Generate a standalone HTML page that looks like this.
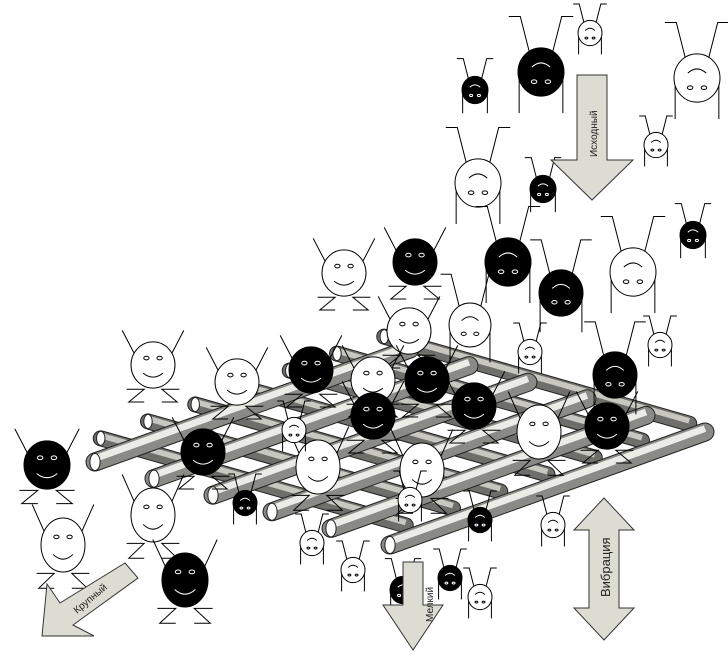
<!DOCTYPE html>
<html><head><meta charset="utf-8"><style>
html,body{margin:0;padding:0;background:#fff;width:728px;height:656px;overflow:hidden}
svg{display:block}
text{font-family:"Liberation Sans",sans-serif}
</style></head><body>
<svg id="s" width="728" height="656" viewBox="0 0 728 656" xmlns="http://www.w3.org/2000/svg">
<g id="under"></g>
<g id="grid"></g>
<g id="over"></g>
<g fill="#dcdcd2" stroke="#333" stroke-width="1">
  <polygon points="577,75 607,75 607,160 633,160 592,200 551,160 577,160"/>
  <polygon points="403,562 423,562 423,605 443,605 413,650 383,605 403,605"/>
  <polygon points="604,498 634,530 619,530 619,608 634,608 604,640 574,608 589,608 589,530 574,530"/>
  <polygon points="125,563 138,578 73,625 94,636 42,636 47,584 60,603"/>
</g>
<text x="0" y="0" font-size="10" transform="translate(597,157) rotate(-90)" fill="#222">Исходный</text>
<text x="0" y="0" font-size="10" transform="translate(433,622) rotate(-90)" fill="#222">Мелкий</text>
<text x="0" y="0" font-size="13" transform="translate(610,597) rotate(-90)" fill="#222">Вибрация</text>
<text x="0" y="0" font-size="10" transform="translate(77,614) rotate(-40)" fill="#222">Крупный</text>
</svg>
<script>
var NS="http://www.w3.org/2000/svg";
function el(p,t,a){var e=document.createElementNS(NS,t);for(var k in a)e.setAttribute(k,a[k]);p.appendChild(e);return e;}
var grid=document.getElementById('grid');
var L=[95,462],u=[295,83],v=[315,-113];
function rod(x1,y1,x2,y2,w,dark){
 el(grid,'line',{x1:x1,y1:y1,x2:x2,y2:y2,stroke:'#222','stroke-width':w+2,'stroke-linecap':'round'});
 el(grid,'line',{x1:x1,y1:y1,x2:x2,y2:y2,stroke:dark?'#6e6e6a':'#8a8a86','stroke-width':w,'stroke-linecap':'round'});
 el(grid,'line',{x1:x1,y1:y1-w*0.2,x2:x2,y2:y2-w*0.2,stroke:dark?'#c8c8c0':'#ececE6','stroke-width':w*0.4});
 el(grid,'ellipse',{cx:x1,cy:y1,rx:w*0.3,ry:w/2,fill:'#fff',stroke:'#222'});
}
for(var j=0;j<7;j++){var t=0.05+j*0.15;var sx=L[0]+t*v[0]-10,sy=L[1]+t*v[1]-18;rod(sx,sy,sx+u[0]+10,sy+u[1]+4,14,1);}
for(var i=0;i<6;i++){var sx=L[0]+i/5*u[0],sy=L[1]+i/5*u[1];rod(sx,sy,sx+v[0],sy+v[1],17,0);}
var over=document.getElementById('over'),under=document.getElementById('under');
function fig(g,x,y,r,black,inv,ry){
 ry=ry||r*1.05;var f=black?'#000':'#fff';
 if(inv){
  el(g,'polyline',{points:(x-r*0.5)+','+(y-ry*0.8)+' '+(x-r*0.9)+','+(y-ry*2.3)+' '+(x-r*1.4)+','+(y-ry*2.3),fill:'none',stroke:'#000'});
  el(g,'polyline',{points:(x+r*0.5)+','+(y-ry*0.8)+' '+(x+r*0.9)+','+(y-ry*2.3)+' '+(x+r*1.4)+','+(y-ry*2.3),fill:'none',stroke:'#000'});
  el(g,'line',{x1:x-r*0.95,y1:y,x2:x-r*0.95,y2:y+ry*1.7,stroke:'#000'});
  el(g,'line',{x1:x+r*0.95,y1:y,x2:x+r*0.95,y2:y+ry*1.7,stroke:'#000'});
  el(g,'ellipse',{cx:x,cy:y,rx:r,ry:ry,fill:f,stroke:'#000'});
  var c=black?'#fff':'#000';
  el(g,'path',{d:'M'+(x-r*0.4)+','+(y-ry*0.2)+' Q'+x+','+(y-ry*0.55)+' '+(x+r*0.4)+','+(y-ry*0.2),fill:'none',stroke:c});
  el(g,'ellipse',{cx:x-r*0.3,cy:y+ry*0.4,rx:r*0.12,ry:r*0.08,fill:'none',stroke:c});
  el(g,'ellipse',{cx:x+r*0.3,cy:y+ry*0.4,rx:r*0.12,ry:r*0.08,fill:'none',stroke:c});
 }else{
  el(g,'line',{x1:x-r*0.8,y1:y-ry*0.4,x2:x-r*1.4,y2:y-ry*1.5,stroke:'#000'});
  el(g,'line',{x1:x+r*0.8,y1:y-ry*0.4,x2:x+r*1.4,y2:y-ry*1.5,stroke:'#000'});
  el(g,'polyline',{points:(x-r*1.2)+','+(y+ry*1.05)+' '+(x-r*0.4)+','+(y+ry*1.05)+' '+(x-r*1.1)+','+(y+ry*1.6)+' '+(x-r*0.4)+','+(y+ry*1.6),fill:'none',stroke:'#000'});
  el(g,'polyline',{points:(x+r*1.2)+','+(y+ry*1.05)+' '+(x+r*0.4)+','+(y+ry*1.05)+' '+(x+r*1.1)+','+(y+ry*1.6)+' '+(x+r*0.4)+','+(y+ry*1.6),fill:'none',stroke:'#000'});
  el(g,'ellipse',{cx:x,cy:y,rx:r,ry:ry,fill:f,stroke:'#000'});
  var c=black?'#fff':'#000';
  el(g,'path',{d:'M'+(x-r*0.45)+','+(y+ry*0.35)+' Q'+x+','+(y+ry*0.7)+' '+(x+r*0.45)+','+(y+ry*0.35),fill:'none',stroke:c});
  el(g,'ellipse',{cx:x-r*0.3,cy:y-ry*0.3,rx:r*0.12,ry:r*0.08,fill:'none',stroke:c});
  el(g,'ellipse',{cx:x+r*0.3,cy:y-ry*0.3,rx:r*0.12,ry:r*0.08,fill:'none',stroke:c});
 }
}
[[475,90,13,1,1],[541,72,23,1,1],[590,33,12,0,1],[697,78,23,0,1],[656,145,12,0,1],[478,183,23,0,1],[543,189,13,1,1],[693,235,13,1,1],[633,272,23,0,1],[508,262,23,1,1],[561,293,22,1,1],[470,325,21,0,1],[530,352,12,0,1],[660,345,12,0,1],[615,375,22,1,1]].forEach(function(a){fig(over,a[0],a[1],a[2],a[3],a[4]);});
[[415,262,22,1,0],[344,273,22,0,0],[409,331,22,0,0],[153,365,22,0,0],[47,465,23,1,0],[63,545,22,0,0,27],[153,515,22,0,0,27],[185,580,23,1,0,27],[237,382,22,0,0],[311,370,22,1,0],[373,380,22,0,0],[427,380,22,1,0],[474,406,22,1,0],[373,416,22,1,0],[203,452,22,1,0],[318,467,22,0,0,27],[422,470,22,0,0,27],[539,432,22,0,0,27],[607,426,22,1,0]].forEach(function(a){fig(over,a[0],a[1],a[2],a[3],a[4],a[5]);});
[[294,430,12,0,1],[245,503,12,1,1],[410,500,12,0,1],[480,520,12,1,1],[312,543,12,0,1],[353,570,12,0,1],[403,590,13,1,1],[450,578,12,1,1],[480,597,12,0,1],[553,525,12,0,1]].forEach(function(a){fig(over,a[0],a[1],a[2],a[3],a[4]);});
</script>
</body></html>
